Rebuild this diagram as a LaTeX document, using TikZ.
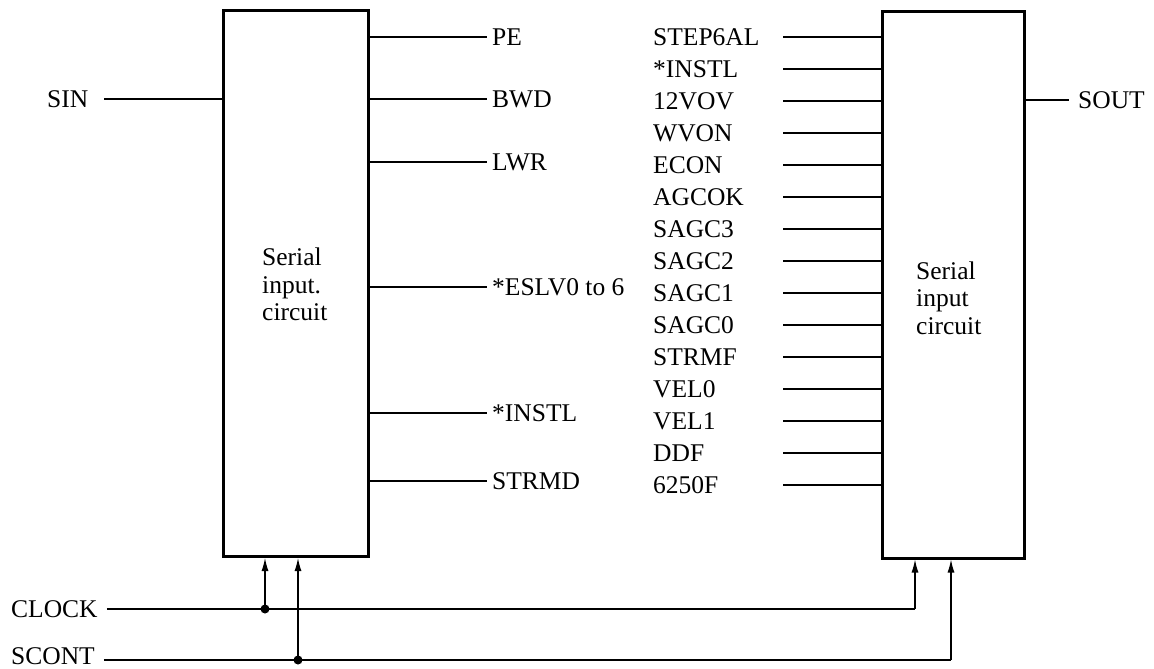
\documentclass[tikz,border=0pt]{standalone}
\usepackage{fontspec}
\setmainfont{Liberation Serif}
\usetikzlibrary{arrows.meta,calc}
\begin{document}
\begin{tikzpicture}[x=1pt,y=-1pt,
  box/.style={draw,line width=3pt,inner sep=0pt,anchor=north west},
  lab/.style={font=\fontsize{25.5}{30}\selectfont, inner sep=0pt, text height=17pt, text depth=0pt, anchor=west},
  btxt/.style={font=\fontsize{25.5}{30}\selectfont, inner sep=0pt, anchor=base west},
  wire/.style={line width=1.2pt},
  sig/.style={wire,-{Latex[length=13pt,width=7pt]}},
  jdot/.style={circle,fill,inner sep=0pt,minimum size=9pt}]
\useasboundingbox (0,0) rectangle (1154,669);

% boxes
\node[box, minimum width=145pt, minimum height=546pt] (L) at (221.5,9) {};
\node[box, minimum width=142pt, minimum height=546pt] (R) at (880.5,10.5) {};

% box texts
\node[btxt] (l1) at (262,265) {Serial};
\node[btxt] (l2) at (262,293) {input.};
\node[btxt] (l3) at (262,320) {circuit};
\node[btxt] (r1) at (916,279) {Serial};
\node[btxt] (r2) at (916,306) {input};
\node[btxt] (r3) at (916,334) {circuit};

% SIN / SOUT
\node[lab] (sin) at (47,99) {SIN};
\draw[wire] ([xshift=16pt]sin.east) -- (sin.east -| L.west);
\node[lab] (sout) at (1078,100) {SOUT};
\draw[wire] (sout.west -| R.east) -- ([xshift=-9pt]sout.west);

% left outputs
\foreach \t/\yy [count=\i] in {PE/37, BWD/99, LWR/162, {*ESLV0 to 6}/287, *INSTL/413, STRMD/481}{
  \node[lab] (lo\i) at (492,\yy) {\t};
  \draw[wire] (lo\i.west -| L.east) -- ([xshift=-5pt]lo\i.west);
}

% right inputs
\coordinate (rl) at (783,0);
\foreach \t [count=\i from 0] in {STEP6AL, *INSTL, 12VOV, WVON, ECON, AGCOK, SAGC3, SAGC2, SAGC1, SAGC0, STRMF, VEL0, VEL1, DDF, 6250F}{
  \node[lab] (ri\i) at (653,37+32*\i) {\t};
  \draw[wire] (ri\i.west -| rl) -- (ri\i.west -| R.west);
}

% CLOCK and SCONT
\node[lab] (clock) at (11,609) {CLOCK};
\node[lab] (scont) at (11,656) {SCONT};
\node[jdot] (d1) at (265,609) {};
\node[jdot] (d2) at (298,660) {};
\coordinate (rc) at (915,609);
\coordinate (rs) at (951,660);
\draw[wire] ([xshift=9pt]clock.east |- d1) -- (d1.center) -- (rc);
\draw[wire] ([xshift=9pt]scont.east |- d2) -- (d2.center) -- (rs);
\draw[sig] (d1.center) -- (d1 |- L.south);
\draw[sig] (d2.center) -- (d2 |- L.south);
\draw[sig] (rc) -- (rc |- R.south);
\draw[sig] (rs) -- (rs |- R.south);
\end{tikzpicture}
\end{document}
